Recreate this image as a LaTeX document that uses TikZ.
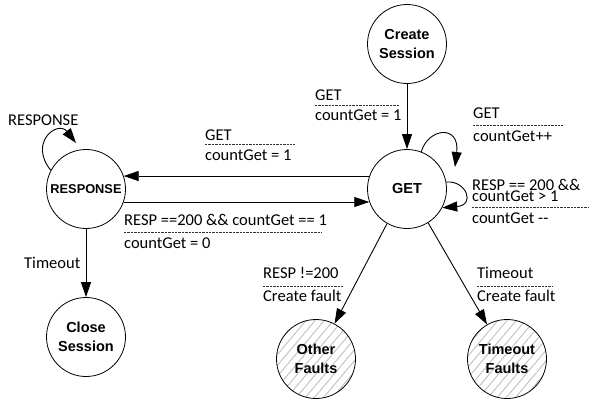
\documentclass[tikz,border=0pt]{standalone}
\usepackage{fontspec}
\setmainfont{Carlito}[Ligatures=TeXOff]
\newfontfamily\statefont{Liberation Sans}
\usetikzlibrary{arrows.meta,patterns.meta,calc}

\tikzset{
  state/.style={circle, draw, line width=0.8pt, minimum size=79pt, inner sep=0pt,
    align=center, font=\statefont\bfseries\fontsize{14.5}{18.5}\selectfont},
  fault/.style={state, pattern={Lines[angle=50,distance=7pt,line width=0.9pt]},
    pattern color=black!25},
  arr/.style={line width=0.9pt, -{Triangle[length=15pt,width=10pt]}},
  lbl/.style={anchor=base west, inner sep=0pt, font=\fontsize{16.5}{20}\selectfont},
  sep/.style={line width=0.45pt, black!80, dash pattern=on 2.4pt off 1pt},
}

\begin{document}
\begin{tikzpicture}[x=1pt,y=-1pt]
\useasboundingbox (0,0) rectangle (589,402);

% states
\node[state] (CS)  at (407,44)  {Create\\Session};
\node[state] (GET) at (407,189) {GET};
\node[state, font=\statefont\bfseries\fontsize{12.8}{15}\selectfont] (RSP) at (86,189) {RESPONSE};
\node[state] (CL)  at (86,337)  {Close\\Session};
\node[fault] (OF)  at (316,359) {Other\\Faults};
\node[fault] (TF)  at (507,359) {Timeout\\Faults};

% transitions
\draw[arr] (CS) -- (GET);
\draw[arr] (GET.161) -- (RSP.19);
\draw[arr] (RSP.341) -- (GET.199);
\draw[arr] (RSP) -- (CL);
\draw[arr] (GET.240) -- (OF);
\draw[arr] (GET.302) -- (TF);

% self loops
\draw[arr] (RSP.152) .. controls ($(RSP)+(-58,-47)$) and ($(RSP)+(-28,-69)$) .. ($(RSP)+(-10,-46)$);
\draw[arr] (GET.69) .. controls ($(GET)+(21,-61)$) and ($(GET)+(53,-65)$) .. ($(GET)+(48,-22)$);
\draw[arr] (GET.10) .. controls ($(GET)+(59,-9)$) and ($(GET)+(69,16)$) .. (GET.332);

% transition labels
\node[lbl] (a1) at (315,100) {GET};
\draw[sep] (315,105.5) -- (400,105.5);
\node[lbl] (a2) at (315,120) {countGet = 1};

\node[lbl] (b1) at (205,140) {GET};
\draw[sep] (205,144) -- (295,144);
\node[lbl] (b2) at (205,160) {countGet = 1};

\node[lbl] (c1) at (473,118.5) {GET};
\draw[sep] (473,125) -- (563,125);
\node[lbl] (c2) at (473,141) {countGet++};

\node[lbl] (d1) at (472,190) {RESP == 200 \&\&};
\node[lbl] (d2) at (472,201.5) {countGet > 1};
\draw[sep] (472,207) -- (588,207);
\node[lbl] (d3) at (472,223) {countGet --};

\node[lbl] (e1) at (124,225) {RESP ==200 \&\& countGet == 1};
\draw[sep] (124,232) -- (322,232);
\node[lbl] (e2) at (124,248) {countGet = 0};

\node[lbl] (f1) at (263,278) {RESP !=200};
\draw[sep] (263,286) -- (343,286);
\node[lbl] (f2) at (263,301) {Create fault};

\node[lbl] (g1) at (477,278) {Timeout};
\draw[sep] (477,286) -- (552,286);
\node[lbl] (g2) at (477,301) {Create fault};

\node[lbl] (h1) at (24,268) {Timeout};
\node[lbl] (r1) at (8,125) {RESPONSE};
\end{tikzpicture}
\end{document}
